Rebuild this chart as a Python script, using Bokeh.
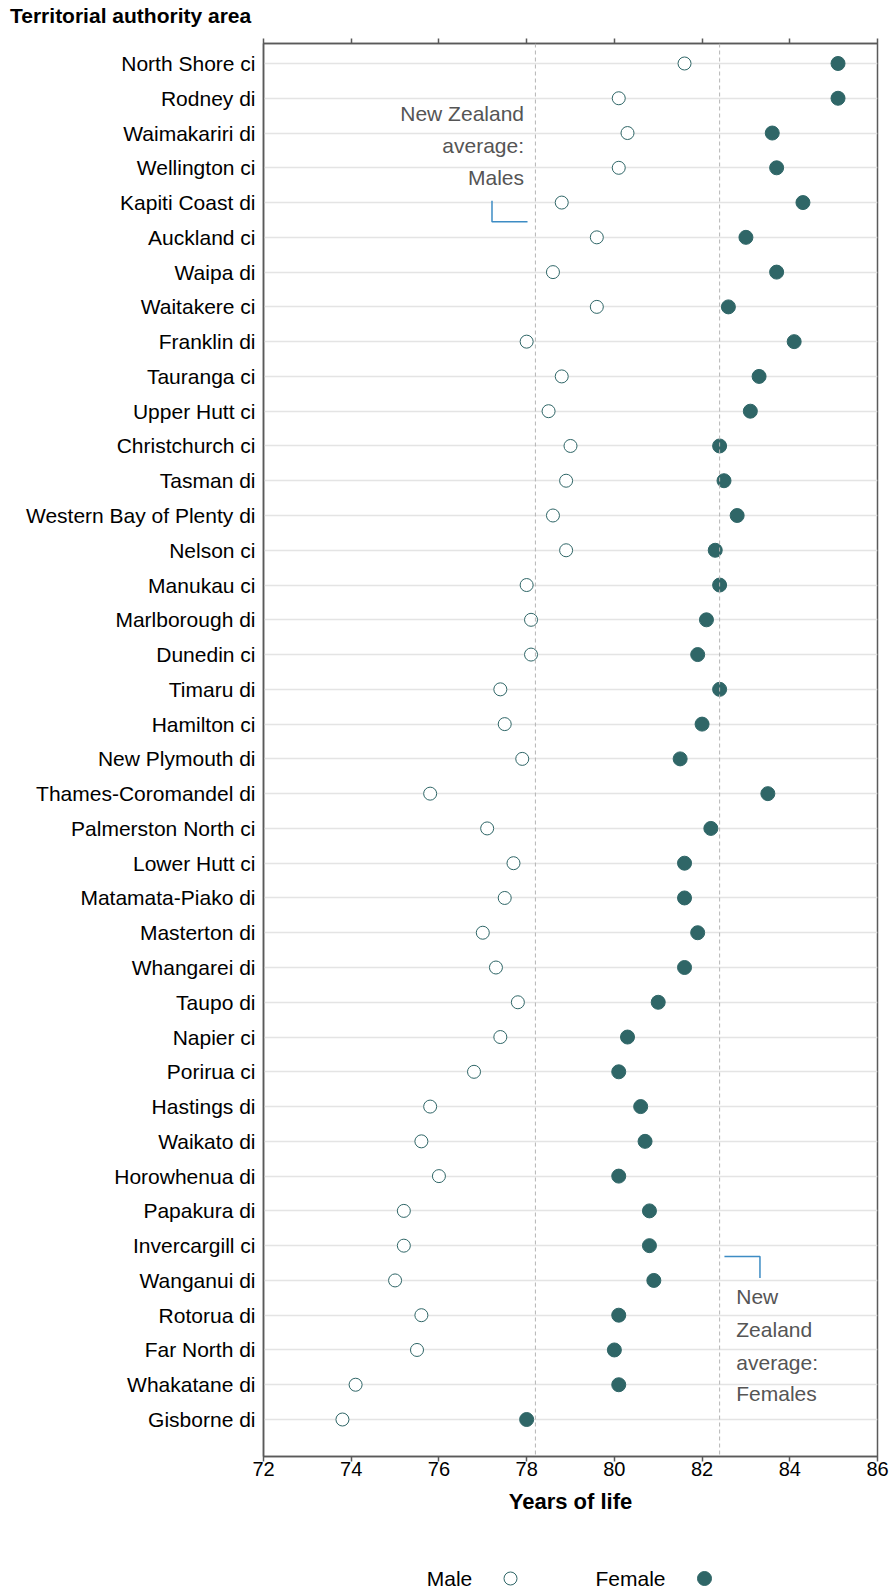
from bokeh.plotting import figure
from bokeh.models import Range1d, FixedTicker, LinearAxis, Span, ColumnDataSource, Div
from bokeh.layouts import column
from bokeh.embed import file_html
from bokeh.resources import INLINE
from bokeh.core.properties import value

# ---------------- data ----------------
areas = [
    "North Shore ci", "Rodney di", "Waimakariri di", "Wellington ci", "Kapiti Coast di",
    "Auckland ci", "Waipa di", "Waitakere ci", "Franklin di", "Tauranga ci",
    "Upper Hutt ci", "Christchurch ci", "Tasman di", "Western Bay of Plenty di", "Nelson ci",
    "Manukau ci", "Marlborough di", "Dunedin ci", "Timaru di", "Hamilton ci",
    "New Plymouth di", "Thames-Coromandel di", "Palmerston North ci", "Lower Hutt ci", "Matamata-Piako di",
    "Masterton di", "Whangarei di", "Taupo di", "Napier ci", "Porirua ci",
    "Hastings di", "Waikato di", "Horowhenua di", "Papakura di", "Invercargill ci",
    "Wanganui di", "Rotorua di", "Far North di", "Whakatane di", "Gisborne di",
]
male = [
    81.6, 80.1, 80.3, 80.1, 78.8,
    79.6, 78.6, 79.6, 78.0, 78.8,
    78.5, 79.0, 78.9, 78.6, 78.9,
    78.0, 78.1, 78.1, 77.4, 77.5,
    77.9, 75.8, 77.1, 77.7, 77.5,
    77.0, 77.3, 77.8, 77.4, 76.8,
    75.8, 75.6, 76.0, 75.2, 75.2,
    75.0, 75.6, 75.5, 74.1, 73.8,
]
female = [
    85.1, 85.1, 83.6, 83.7, 84.3,
    83.0, 83.7, 82.6, 84.1, 83.3,
    83.1, 82.4, 82.5, 82.8, 82.3,
    82.4, 82.1, 81.9, 82.4, 82.0,
    81.5, 83.5, 82.2, 81.6, 81.6,
    81.9, 81.6, 81.0, 80.3, 80.1,
    80.6, 80.7, 80.1, 80.8, 80.8,
    80.9, 80.1, 80.0, 80.1, 78.0,
]
nz_avg_male = 78.2
nz_avg_female = 82.4
x_ticks = [72, 74, 76, 78, 80, 82, 84, 86]

heading = "Territorial authority area"
x_title = "Years of life"
male_note_lines = ["New Zealand", "average:", "Males"]
female_note_lines = ["New", "Zealand", "average:", "Females"]
legend_labels = ["Male", "Female"]

# ---------------- styling ----------------
FONT = "Liberation Sans"
TEAL = "#2f6667"
AXIS_GREY = "#5a5a5a"
NOTE_GREY = "#555555"
BRACKET = "#3d8cc4"
W = 894
BL, BR = 263, 17          # left/right borders -> frame 263..877

rows = list(range(len(areas)))
src = ColumnDataSource(dict(y=rows, male=male, female=female))

# ---------------- heading ----------------
title_div = Div(
    text=f'<div style="font-family:\'{FONT}\';font-size:21px;font-weight:bold;'
         f'color:#000;line-height:25px;padding:3px 0 0 10px;white-space:nowrap">{heading}</div>',
    width=W, height=36, margin=(0, 0, 0, 0))

# ---------------- main plot ----------------
p = figure(width=W, height=1499, output_backend="svg", toolbar_location=None,
           x_range=Range1d(72, 86), y_range=Range1d(40.064, -0.575),
           min_border_left=BL, min_border_right=BR, min_border_top=7, min_border_bottom=79)
p.background_fill_color = "white"
p.border_fill_color = "white"
p.outline_line_color = AXIS_GREY
p.outline_line_width = 1.5

xa = p.xaxis[0]
xa.ticker = FixedTicker(ticks=x_ticks)
xa.axis_label = x_title
xa.axis_label_text_font = FONT
xa.axis_label_text_font_style = "bold"
xa.axis_label_text_font_size = "22px"
xa.axis_label_text_color = "black"
xa.axis_label_standoff = 10
xa.major_label_text_font = FONT
xa.major_label_text_font_size = "20px"
xa.major_label_text_color = "black"
xa.major_label_standoff = 0
xa.major_tick_out = 5
xa.major_tick_in = 0
xa.minor_tick_out = 0
xa.minor_tick_in = 0
xa.axis_line_color = AXIS_GREY
xa.axis_line_width = 1.5
xa.major_tick_line_color = AXIS_GREY
xa.major_tick_line_width = 1.5

# top axis: tick marks only
ta = LinearAxis(ticker=FixedTicker(ticks=x_ticks))
ta.major_label_text_font_size = "1px"
ta.major_label_text_color = None
ta.major_label_standoff = 0
ta.major_tick_out = 5
ta.major_tick_in = 0
ta.minor_tick_out = 0
ta.minor_tick_in = 0
ta.axis_line_color = AXIS_GREY
ta.axis_line_width = 1.5
ta.major_tick_line_color = AXIS_GREY
ta.major_tick_line_width = 1.5
p.add_layout(ta, "above")

ya = p.yaxis[0]
ya.ticker = FixedTicker(ticks=rows)
ya.major_label_overrides = {i: a for i, a in enumerate(areas)}
ya.major_label_text_font = FONT
ya.major_label_text_font_size = "21px"
ya.major_label_text_color = "black"
ya.major_label_standoff = 8
ya.major_tick_out = 0
ya.major_tick_in = 0
ya.minor_tick_out = 0
ya.minor_tick_in = 0
ya.axis_line_color = AXIS_GREY
ya.axis_line_width = 1.5

p.xgrid.visible = False
p.ygrid.ticker = FixedTicker(ticks=rows)
p.ygrid.grid_line_color = "#e4e4e4"
p.ygrid.grid_line_width = 1.5

for v in (nz_avg_male, nz_avg_female):
    p.add_layout(Span(location=v, dimension="height", line_color="#b5b5b5",
                      line_width=1, line_dash="4 3"))

p.scatter("male", "y", source=src, size=13, marker="circle",
          fill_color="white", line_color=TEAL, line_width=1)
p.scatter("female", "y", source=src, size=14, marker="circle",
          fill_color=TEAL, line_color=TEAL, line_width=1)

# annotations
male_note_x = [77.94] * 3
male_note_y = [1.44, 2.37, 3.29]
p.text(x=male_note_x, y=male_note_y, text=male_note_lines, text_align="right",
       text_baseline="middle", text_font=value(FONT), text_font_size="21px",
       text_color=NOTE_GREY)
p.line(x=[77.21, 77.21, 78.02], y=[3.95, 4.55, 4.55], line_color=BRACKET, line_width=1.5)

female_note_x = [82.78] * 4
female_note_y = [35.47, 36.41, 37.35, 38.24]
p.text(x=female_note_x, y=female_note_y, text=female_note_lines, text_align="left",
       text_baseline="middle", text_font=value(FONT), text_font_size="21px",
       text_color=NOTE_GREY)
p.line(x=[82.51, 83.32, 83.32], y=[34.31, 34.31, 34.93], line_color=BRACKET, line_width=1.5)

# ---------------- legend ----------------
lg = figure(width=W, height=58, output_backend="svg", toolbar_location=None,
            x_range=Range1d(BL, W - BR), y_range=Range1d(0, 58),
            min_border_left=BL, min_border_right=BR, min_border_top=0, min_border_bottom=0)
lg.axis.visible = False
lg.grid.visible = False
lg.outline_line_color = None
lg.background_fill_color = "white"
legend_text_x = [449, 630]
legend_marker_x = [510, 704]
legend_y = [15, 15]
lg.text(x=legend_text_x, y=legend_y, text=legend_labels, text_align="center",
        text_baseline="middle", text_font=value(FONT), text_font_size="21px",
        text_color="black")
lg.scatter(x=[legend_marker_x[0]], y=[legend_y[0]], size=13, marker="circle",
           fill_color="white", line_color=TEAL, line_width=1)
lg.scatter(x=[legend_marker_x[1]], y=[legend_y[1]], size=14, marker="circle",
           fill_color=TEAL, line_color=TEAL, line_width=1)

layout = column(title_div, p, lg, spacing=0)
open("out.html", "w").write(file_html(layout, INLINE))
